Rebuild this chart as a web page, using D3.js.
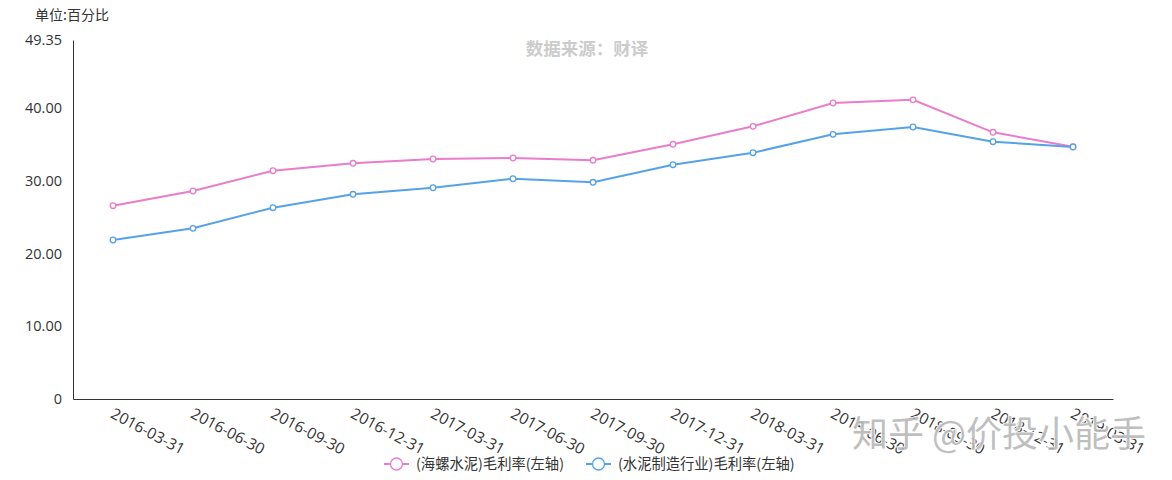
<!DOCTYPE html>
<html><head><meta charset="utf-8">
<script src="https://cdn.jsdelivr.net/npm/d3@7/dist/d3.min.js"></script>
<style>
body{margin:0;background:#fff;}
svg{display:block;font-family:"Open Sans","Noto Sans CJK SC",sans-serif;}
</style></head>
<body><svg id="c" width="1172" height="480"></svg>
<script>
const categories = ["2016-03-31","2016-06-30","2016-09-30","2016-12-31","2017-03-31","2017-06-30","2017-09-30","2017-12-31","2018-03-31","2018-06-30","2018-09-30","2018-12-31","2019-03-31"];
const conchValues = [26.57,28.59,31.38,32.40,32.99,33.13,32.81,35.01,37.48,40.69,41.12,36.66,34.68];
const industryValues = [21.86,23.46,26.30,28.14,29.04,30.28,29.79,32.21,33.86,36.38,37.39,35.37,34.64];
const yTicks = [0,10,20,30,40,49.35];
const seriesNames = ["(海螺水泥)毛利率(左轴)","(水泥制造行业)毛利率(左轴)"];
const colors = ["#ea7ccc","#55a2e8"];

const svg = d3.select("#c");
const mLeft = 73, mRight = 1113, mTop = 40, mBottom = 399;
const x = d3.scaleBand().domain(categories).range([mLeft,mRight]);
const y = d3.scaleLinear().domain([0,49.35]).range([mBottom,mTop]);

// title
svg.append("text").attr("x",587).attr("y",55).attr("text-anchor","middle")
  .attr("font-size",17.5).attr("font-weight","bold").attr("fill","#cccccc")
  .attr("font-family","Noto Sans CJK SC").text("数据来源：财译");
svg.append("text").attr("x",35).attr("y",20).attr("font-size",14).attr("fill","#333")
  .attr("font-family","Noto Sans CJK SC").text("单位:百分比");

// y axis
const ya = svg.append("g").attr("transform",`translate(${mLeft},0)`)
  .call(d3.axisLeft(y).tickValues(yTicks).tickSize(0).tickPadding(11)
    .tickFormat(d=> d===0 ? "0" : d.toFixed(2)));
ya.select(".domain").attr("stroke","#333").attr("stroke-width",1);
ya.selectAll("text").attr("font-size",14.5).attr("fill","#333").attr("font-family","Open Sans");

// x axis
const xa = svg.append("g").attr("transform",`translate(0,${mBottom})`)
  .call(d3.axisBottom(x).tickSize(0).tickPadding(0));
xa.select(".domain").attr("stroke","#333").attr("stroke-width",1);
xa.selectAll("text").attr("font-size",15.5).attr("fill","#333").attr("font-family","Open Sans")
  .attr("text-anchor","start").attr("dy",0).attr("y",0)
  .attr("transform","translate(3,6) rotate(28)").attr("dominant-baseline","hanging");

// lines
const seriesData = [conchValues, industryValues];
seriesData.forEach((vals,i)=>{
  const line = d3.line().x((d,j)=>x(categories[j])+x.bandwidth()/2).y(d=>y(d));
  svg.append("path").datum(vals).attr("d",line).attr("fill","none")
    .attr("stroke",colors[i]).attr("stroke-width",2);
});
seriesData.forEach((vals,i)=>{
  svg.append("g").selectAll("circle").data(vals).join("circle")
    .attr("cx",(d,j)=>x(categories[j])+x.bandwidth()/2).attr("cy",d=>y(d)).attr("r",2.8)
    .attr("fill","#fff").attr("stroke",colors[i]).attr("stroke-width",1.3);
});

// watermark
svg.append("text").attr("x",999).attr("y",447).attr("text-anchor","middle")
  .attr("font-size",36).attr("font-family","Noto Sans CJK SC")
  .attr("fill","#b4b4b4").attr("fill-opacity",0.85).attr("stroke","#ffffff").attr("stroke-width",1.5)
  .attr("paint-order","stroke").text("知乎 @价投小能手");

// legend
const legendX = [384, 586];
seriesNames.forEach((n,i)=>{
  const g = svg.append("g").attr("transform",`translate(${legendX[i]},464)`);
  g.append("line").attr("x1",0).attr("x2",25).attr("stroke",colors[i]).attr("stroke-width",2);
  g.append("circle").attr("cx",12.5).attr("r",6).attr("fill","#fff").attr("stroke",colors[i]).attr("stroke-width",1.3);
  g.append("text").attr("x",32).attr("y",0).attr("dy","0.35em").attr("font-size",14.3)
    .attr("fill","#333").attr("font-family","Noto Sans CJK SC").text(n);
});
</script></body></html>
